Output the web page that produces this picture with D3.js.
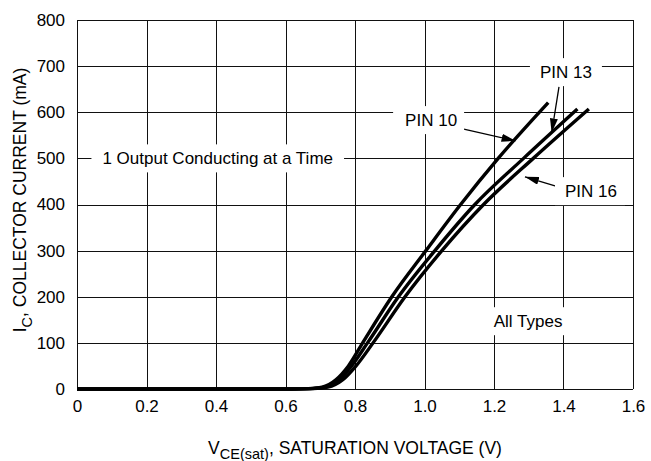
<!DOCTYPE html>
<html>
<head>
<meta charset="utf-8">
<script src="https://cdn.jsdelivr.net/npm/d3@7"></script>
<style>
  body { margin: 0; background: #fff; }
  svg text { font-family: "Liberation Sans", Arial, sans-serif; fill: #000; }
</style>
</head>
<body>
<div id="chart"></div>
<script>
const width = 651;
const height = 461;

// axis ticks
const xTicks = [0, 0.2, 0.4, 0.6, 0.8, 1.0, 1.2, 1.4, 1.6];
const xTickLabels = ["0", "0.2", "0.4", "0.6", "0.8", "1.0", "1.2", "1.4", "1.6"];
const yTicks = [0, 100, 200, 300, 400, 500, 600, 700, 800];

// curves (volts, mA)
const pin10Volts = [0, 0.62, 0.665, 0.705, 0.745, 0.781, 0.822, 0.906, 1.004, 1.104, 1.212, 1.356];
const pin10mA    = [0, 0,    0.8,   4,     20,    50,    100,   200,   300,   400,   500,   621];
const pin13Volts = [0, 0.62, 0.672, 0.714, 0.755, 0.79, 0.836, 0.925, 1.03, 1.145, 1.285, 1.44];
const pin13mA    = [0, 0,    0.8,   4,     20,    50,   100,   200,   300,  400,   500,   607];
const pin16Volts = [0, 0.62, 0.68, 0.722, 0.765, 0.803, 0.852, 0.944, 1.05, 1.17, 1.313, 1.473];
const pin16mA    = [0, 0,    0.8,  4,     20,    50,    100,   200,   300,  400,  500,   607];

// annotations in data units
const notes = [
  { text: "1 Output Conducting at a Time", v: 0.405, mA: 500, padL: 11, padR: 11 },
  { text: "PIN 13", v: 1.407, mA: 687, padL: 10, padR: 10 },
  { text: "PIN 10", v: 1.019, mA: 583, padL: 12, padR: 7 },
  { text: "PIN 16", v: 1.479, mA: 429, padL: 10, padR: 8 },
  { text: "All Types", v: 1.298, mA: 147, padL: 5, padR: 5 }
];
const arrows = [
  { from: [1.11, 564], to: [1.262, 538] },
  { from: [1.387, 655], to: [1.366, 556] },
  { from: [1.378, 440], to: [1.289, 460] }
];

const x = d3.scaleLinear().domain([0, 1.6]).range([77, 633]);
const y = d3.scaleLinear().domain([0, 800]).range([389, 20]);

const svg = d3.select("#chart")
  .append("svg")
  .attr("width", width)
  .attr("height", height);

svg.append("defs").append("marker")
  .attr("id", "head")
  .attr("viewBox", "0 0 14 8")
  .attr("refX", 14)
  .attr("refY", 4)
  .attr("markerUnits", "userSpaceOnUse")
  .attr("markerWidth", 14)
  .attr("markerHeight", 8)
  .attr("orient", "auto")
  .append("path")
  .attr("d", "M0,0 L14,4 L0,8 Z")
  .attr("fill", "#000");

// grid
const grid = svg.append("g").attr("shape-rendering", "crispEdges");
grid.selectAll(".vx").data(xTicks).join("line")
  .attr("x1", d => Math.round(x(d)) + 0.5).attr("x2", d => Math.round(x(d)) + 0.5)
  .attr("y1", y(800)).attr("y2", y(0))
  .attr("stroke", "#111").attr("stroke-width", 1);
grid.selectAll(".hy").data(yTicks).join("line")
  .attr("y1", d => Math.round(y(d)) + 0.5).attr("y2", d => Math.round(y(d)) + 0.5)
  .attr("x1", x(0)).attr("x2", x(1.6))
  .attr("stroke", "#111").attr("stroke-width", 1);

// tick labels
svg.append("g")
  .attr("transform", `translate(0,${y(0)})`)
  .call(d3.axisBottom(x).tickValues(xTicks).tickFormat((d, i) => xTickLabels[i]).tickSize(0).tickPadding(11))
  .call(g => g.select(".domain").remove())
  .selectAll("text")
  .attr("font-size", 17)
  .attr("font-family", "Liberation Sans, Arial, sans-serif");

svg.append("g")
  .attr("transform", `translate(${x(0)},0)`)
  .call(d3.axisLeft(y).tickValues(yTicks).tickSize(0).tickPadding(12))
  .call(g => g.select(".domain").remove())
  .selectAll("text")
  .attr("font-size", 17)
  .attr("font-family", "Liberation Sans, Arial, sans-serif");

// axis titles
const xTitle = svg.append("text")
  .attr("x", 355).attr("y", 454)
  .attr("text-anchor", "middle")
  .attr("font-size", 17.5);
xTitle.append("tspan").text("V");
xTitle.append("tspan").attr("font-size", 14.5).attr("dy", 5).text("CE(sat)");
xTitle.append("tspan").attr("dy", -5).text(", SATURATION VOLTAGE (V)");

const yTitle = svg.append("text")
  .attr("transform", "translate(26,200) rotate(-90)")
  .attr("text-anchor", "middle")
  .attr("font-size", 17.5);
yTitle.append("tspan").text("I");
yTitle.append("tspan").attr("font-size", 14.5).attr("dy", 6).text("C");
yTitle.append("tspan").attr("dy", -6).text(", COLLECTOR CURRENT (mA)");

// label boxes and texts
const noteGroups = svg.selectAll(".note").data(notes).join("g");
noteGroups.append("text")
  .attr("x", d => x(d.v))
  .attr("y", d => y(d.mA))
  .attr("dy", "0.36em")
  .attr("text-anchor", "middle")
  .attr("font-size", 17)
  .text(d => d.text);
noteGroups.each(function(d) {
  const bb = d3.select(this).select("text").node().getBBox();
  d3.select(this).insert("rect", "text")
    .attr("x", bb.x - d.padL)
    .attr("y", y(d.mA) - 14)
    .attr("width", bb.width + d.padL + d.padR)
    .attr("height", 28)
    .attr("fill", "#fff");
});

// curves
const line = d3.line()
  .x(d => x(d[0]))
  .y(d => y(d[1]))
  .curve(d3.curveMonotoneX);

const series = [
  d3.zip(pin10Volts, pin10mA),
  d3.zip(pin13Volts, pin13mA),
  d3.zip(pin16Volts, pin16mA)
];
svg.append("g").selectAll("path").data(series).join("path")
  .attr("d", line)
  .attr("fill", "none")
  .attr("stroke", "#000")
  .attr("stroke-width", 3.4);

// arrows
svg.append("g").selectAll("line").data(arrows).join("line")
  .attr("x1", d => x(d.from[0])).attr("y1", d => y(d.from[1]))
  .attr("x2", d => x(d.to[0])).attr("y2", d => y(d.to[1]))
  .attr("stroke", "#000")
  .attr("stroke-width", 1.3)
  .attr("marker-end", "url(#head)");

noteGroups.raise();
</script>
</body>
</html>
